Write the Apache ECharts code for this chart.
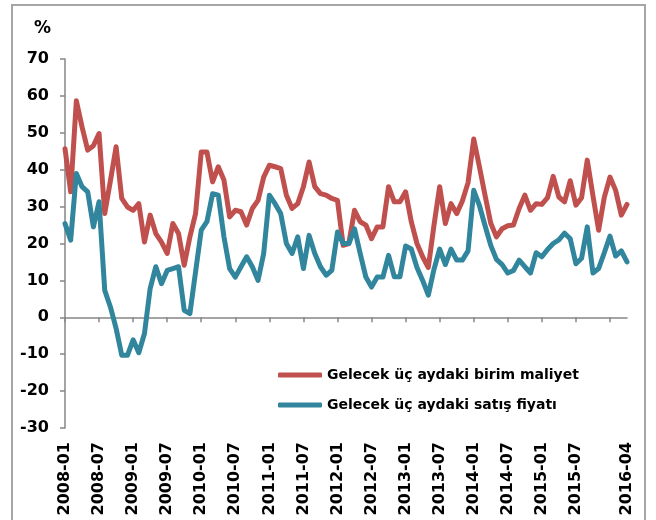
<!DOCTYPE html>
<html>
<head>
<meta charset="utf-8">
<script src="https://cdn.jsdelivr.net/npm/echarts@6/dist/echarts.min.js"></script>
<style>
  html, body { margin: 0; padding: 0; background: #fff; }
  #chart { width: 656px; height: 520px; }
</style>
</head>
<body>
<div id="chart"></div>
<script>
// aylar: 2008-01 ... 2016-04
var months = [];
for (var y = 2008; y <= 2016; y++) {
  for (var m = 1; m <= 12; m++) {
    if (y === 2016 && m > 4) break;
    months.push(y + "-" + (m < 10 ? "0" + m : m));
  }
}

// Gelecek üç aydaki birim maliyet
var birimMaliyet = [
  45.7, 34, 58.7, 51.6, 45.3, 46.5, 49.8, 28.1, 37, 46.2,
  32.2, 29.9, 29, 30.8, 20.4, 27.7, 22.7, 20.4, 17.3, 25.4,
  22.7, 14.1, 21.8, 28.1, 44.8, 44.8, 36.7, 40.8, 37.2, 27.2,
  29, 28.6, 25, 29.5, 31.7, 38, 41.2, 40.8, 40.3, 33.1,
  29.5, 30.8, 35.4, 42.1, 35.4, 33.5, 33.1, 32.2, 31.7, 19.5,
  20, 29, 25.9, 25, 21.3, 24.5, 24.5, 35.4, 31.3, 31.3,
  34, 25.9, 20, 16.4, 13.5, 25, 35.4, 25.4, 30.8, 28.1,
  31.5, 36.5, 48.3, 40.8, 33, 25.5, 21.8, 24, 24.8, 25,
  29.5, 33.1, 29, 30.8, 30.6, 32.4, 38.2, 32.6, 31.3, 37,
  30.4, 32.4, 42.6, 33, 23.6, 32.5, 38, 34.4, 27.7, 30.6
];

// Gelecek üç aydaki satış fiyatı
var satisFiyati = [
  25.4, 20.9, 39, 35.4, 34, 24.5, 31.3, 7.3, 2.8, -3,
  -10.3, -10.3, -6.1, -9.6, -4.4, 7.8, 13.7, 9.1, 12.7, 13.2,
  13.7, 1.9, 1, 12.3, 23.6, 25.9, 33.5, 33.1, 21.8, 13.2,
  10.9, 13.7, 16.4, 13.7, 10, 17.3, 33.1, 30.8, 28.1, 20,
  17.3, 21.8, 13.2, 22.2, 17.3, 13.7, 11.4, 12.7, 23.1, 20,
  20, 24, 17.3, 10.9, 8.2, 10.9, 10.9, 16.8, 11, 11,
  19.3, 18.5, 13.5, 10, 6, 13, 18.5, 14.3, 18.5, 15.5,
  15.5, 18, 34.4, 30.3, 24.8, 19.5, 15.7, 14.3, 12, 12.7,
  15.5, 13.7, 12, 17.5, 16.4, 18.4, 20, 21, 22.8, 21.3,
  14.5, 16, 24.5, 12, 13.2, 17.5, 22, 16.6, 18, 15
];

var seriesNames = ["Gelecek üç aydaki birim maliyet", "Gelecek üç aydaki satış fiyatı"];

var chart = echarts.init(document.getElementById("chart"));
var axisGrey = "#868686";
var boldFont = { fontFamily: "DejaVu Sans", fontWeight: "bold", color: "#000" };

var option = {
  animation: false,
  backgroundColor: "#fff",
  graphic: [
    {
      type: "rect",
      shape: { x: 12, y: 5, width: 633, height: 530 },
      style: { fill: "none", stroke: "#a6a6a6", lineWidth: 2 }
    },
    {
      type: "text",
      left: 34,
      top: 20,
      style: { text: "%", font: "bold 17px 'DejaVu Sans'", fill: "#000" }
    }
  ],
  legend: {
    orient: "vertical",
    left: 273,
    top: 363,
    icon: "roundRect",
    itemWidth: 44,
    itemHeight: 5,
    itemGap: 16,
    data: seriesNames,
    textStyle: { fontFamily: "DejaVu Sans", fontWeight: "bold", fontSize: 14, color: "#000", lineHeight: 14 }
  },
  grid: { left: 65, right: 29, top: 59, bottom: 92 },
  xAxis: [
    {
      type: "category",
      data: months,
      boundaryGap: false,
      position: "bottom",
      axisLine: { onZero: true, lineStyle: { color: axisGrey, width: 1.5 } },
      axisTick: {
        length: 5,
        lineStyle: { color: axisGrey, width: 1.5 },
        interval: function (i) { return i % 6 === 0; }
      },
      axisLabel: { show: false }
    },
    {
      type: "category",
      data: months,
      boundaryGap: false,
      position: "bottom",
      axisLine: { show: false, onZero: false },
      axisTick: { show: false },
      axisLabel: Object.assign({
        rotate: 90,
        fontSize: 16,
        margin: 14,
        interval: function (i) { return (i % 6 === 0 && i !== 96) || i === months.length - 1; }
      }, boldFont)
    }
  ],
  yAxis: {
    type: "value",
    min: -30,
    max: 70,
    interval: 10,
    axisLine: { show: true, lineStyle: { color: axisGrey, width: 1.5 } },
    axisTick: { show: true, length: 5, lineStyle: { color: axisGrey, width: 1.5 } },
    splitLine: { show: false },
    axisLabel: Object.assign({ fontSize: 16, margin: 16 }, boldFont)
  },
  series: [
    {
      name: seriesNames[0],
      type: "line",
      data: birimMaliyet,
      symbol: "none",
      color: "#c0504d",
      lineStyle: { width: 5, color: "#c0504d", join: "round", cap: "round" }
    },
    {
      name: seriesNames[1],
      type: "line",
      data: satisFiyati,
      symbol: "none",
      color: "#31859c",
      lineStyle: { width: 5, color: "#31859c", join: "round", cap: "round" }
    }
  ]
};

chart.setOption(option);
</script>
</body>
</html>
